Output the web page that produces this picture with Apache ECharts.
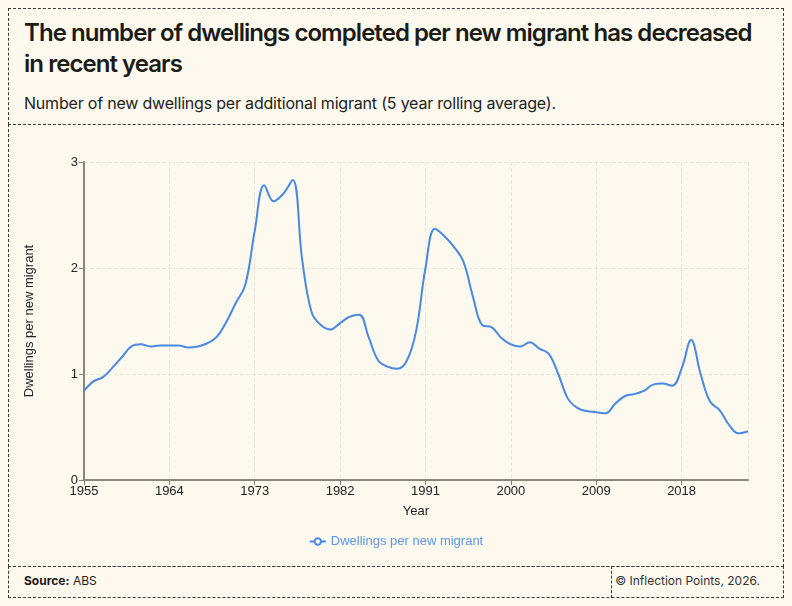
<!DOCTYPE html>
<html>
<head>
<meta charset="utf-8">
<script src="https://cdn.jsdelivr.net/npm/echarts@6/dist/echarts.min.js"></script>
<style>
  html, body { margin: 0; padding: 0; background: #fdf9ee; }
  #page { position: relative; width: 792px; height: 606px; overflow: hidden; font-family: Inter, "Noto Sans", sans-serif; color: #1c1b17; }
  .box { position: absolute; border: 1px dashed #3a3a3a; box-sizing: border-box; }
  #title { position: absolute; left: 24px; top: 17px; white-space: nowrap; font-size: 24px; font-weight: 600; line-height: 31px; letter-spacing: -0.95px; }
  #sub { position: absolute; left: 24px; top: 93px; font-size: 16px; letter-spacing: -0.2px; color: #222; }
  #src { position: absolute; left: 24px; top: 573px; font-size: 12px; }
  #copy { position: absolute; right: 32px; top: 573px; font-size: 12px; color: #333; }
  #chart { position: absolute; left: 0; top: 0; width: 792px; height: 606px; }
</style>
</head>
<body>
<div id="page">
  <div class="box" style="left:8px;top:8px;width:776px;height:117px;"></div>
  <div class="box" style="left:8px;top:124px;width:776px;height:443px;border-top:none;"></div>
  <div class="box" style="left:8px;top:566px;width:776px;height:32px;"></div>
  <div class="box" style="left:611px;top:566px;width:1px;height:32px;border-left:none;border-top:none;border-bottom:none;"></div>
  <div id="title">The number of dwellings completed per new migrant has decreased<br>in recent years</div>
  <div id="sub">Number of new dwellings per additional migrant (5 year rolling average).</div>
  <div id="src"><b>Source:</b> ABS</div>
  <div id="copy">© Inflection Points, 2026.</div>
  <div id="chart"></div>
</div>
<script>
// 年份
var years = [];
for (var y = 1955; y <= 2025; y++) years.push(y);
// 每位新移民对应的新建住宅（5年滚动平均）
var dwellings = [
  0.84, 0.93, 0.97, 1.06, 1.16, 1.26, 1.28, 1.26, 1.27, 1.27,
  1.27, 1.25, 1.26, 1.29, 1.35, 1.49, 1.67, 1.84, 2.35, 2.78,
  2.63, 2.70, 2.83, 2.08, 1.58, 1.46, 1.42, 1.48, 1.54, 1.56,
  1.35, 1.13, 1.07, 1.05, 1.12, 1.40, 2.00, 2.37, 2.30, 2.20,
  2.06, 1.73, 1.46, 1.44, 1.34, 1.28, 1.26, 1.30, 1.24, 1.19,
  1.00, 0.77, 0.68, 0.65, 0.64, 0.63, 0.72, 0.79, 0.81, 0.84,
  0.90, 0.91, 0.89, 1.05, 1.32, 1.00, 0.74, 0.66, 0.52, 0.44,
  0.46
];
var seriesName = 'Dwellings per new migrant';

var data = [];
for (var i = 0; i < years.length; i++) {
  data.push([years[i], dwellings[i]]);
}

var myChart = echarts.init(document.getElementById('chart'));
var option = {
  backgroundColor: 'transparent',
  textStyle: { fontFamily: '"Liberation Sans", Arial, sans-serif' },
  grid: { left: 84, right: 44, top: 162, bottom: 126, containLabel: false },
  xAxis: {
    type: 'value',
    min: 1955,
    max: 2025,
    interval: 9,
    name: 'Year',
    nameLocation: 'middle',
    nameGap: 25,
    nameTextStyle: { color: '#222', fontSize: 13 },
    axisLine: { lineStyle: { color: '#8a847a', width: 2 } },
    axisTick: { show: true, length: 5, lineStyle: { color: '#8a847a' } },
    axisLabel: {
      color: '#222', fontSize: 13, margin: 5, showMaxLabel: false,
      formatter: function (v) { return String(v); }
    },
    splitLine: { show: true, lineStyle: { color: '#ebe6da', type: 'dashed' } }
  },
  yAxis: {
    type: 'value',
    min: 0,
    max: 3,
    interval: 1,
    name: 'Dwellings per new migrant',
    nameLocation: 'middle',
    nameGap: 48,
    nameTextStyle: { color: '#222', fontSize: 13 },
    axisLine: { show: true, lineStyle: { color: '#8a847a', width: 2 } },
    axisTick: { show: true, length: 5, lineStyle: { color: '#8a847a' } },
    axisLabel: { color: '#222', fontSize: 13, margin: 6 },
    splitLine: { show: true, lineStyle: { color: '#ebe6da', type: 'dashed' } }
  },
  legend: {
    data: [seriesName],
    top: 530,
    left: 'center',
    itemWidth: 16,
    itemHeight: 8,
    textStyle: { color: '#5d97e6', fontSize: 13 }
  },
  series: [{
    name: seriesName,
    type: 'line',
    data: data,
    smooth: 0.4,
    showSymbol: false,
    symbol: 'emptyCircle',
    itemStyle: { color: '#4a89e0' },
    lineStyle: { color: '#4a89e0', width: 2 }
  }]
};
myChart.setOption(option);
</script>
</body>
</html>
